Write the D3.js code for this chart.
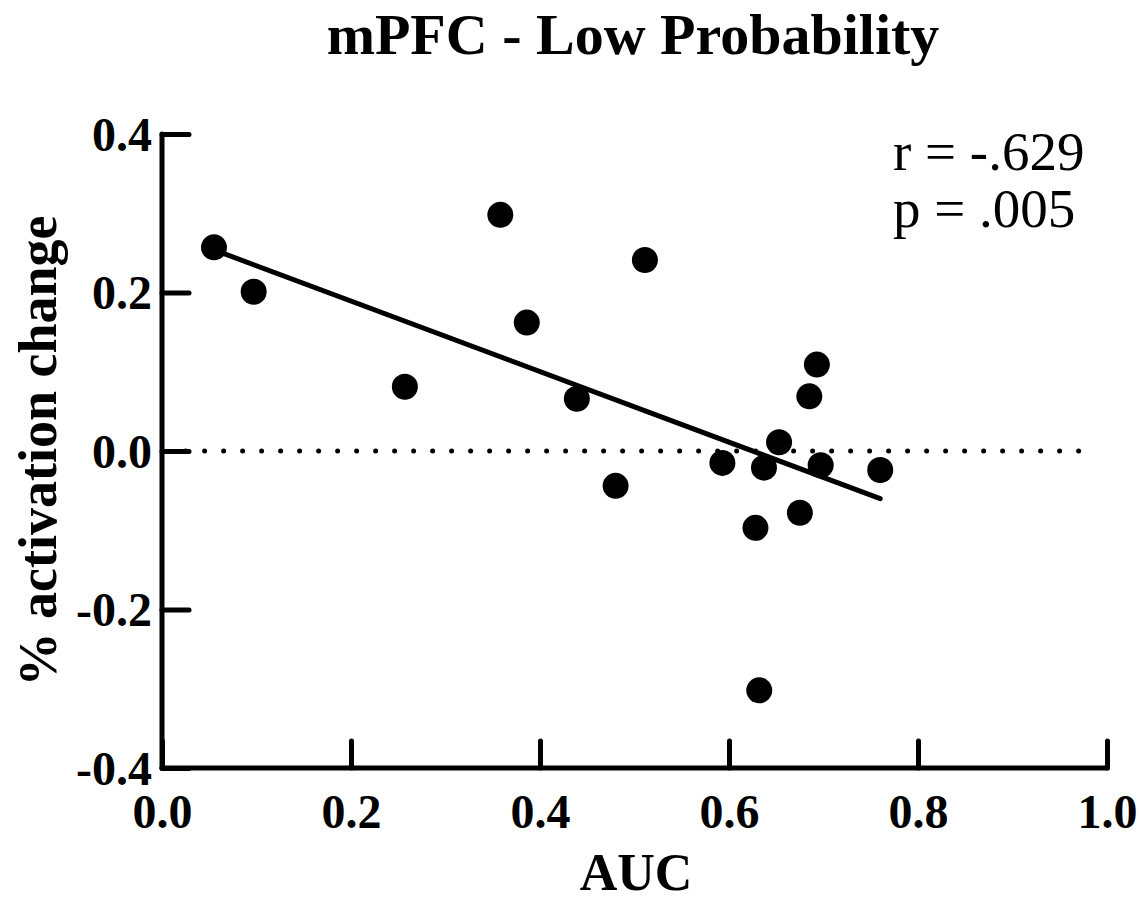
<!DOCTYPE html>
<html lang="en">
<head>
  <meta charset="UTF-8">
  <title>mPFC - Low Probability</title>
  <script src="https://d3js.org/d3.v7.min.js"></script>
  <style>
    body { margin: 0; background: #fff; }
    svg { display: block; }
    text { font-family: "Liberation Serif", "Times New Roman", serif; fill: #000; }
    .bold { font-weight: bold; }
  </style>
</head>
<body>
  <svg width="1140" height="900"></svg>
  <script>
    // AUC values (x) and % activation change (y)
    const auc = [0.055, 0.097, 0.257, 0.358, 0.386, 0.439, 0.480, 0.511, 0.593,
                 0.628, 0.637, 0.632, 0.653, 0.675, 0.685, 0.693, 0.697, 0.760];
    const activation = [0.257, 0.201, 0.081, 0.298, 0.162, 0.066, -0.044, 0.241, -0.015,
                        -0.097, -0.021, -0.302, 0.011, -0.078, 0.069, 0.109, -0.018, -0.024];
    const xTicks = [0.0, 0.2, 0.4, 0.6, 0.8, 1.0];
    const yTicks = [-0.4, -0.2, 0.0, 0.2, 0.4];
    const stats = ["r = -.629", "p = .005"];

    const svg = d3.select("svg");
    const plotL = 162, plotR = 1107, plotT = 134, plotB = 768;

    const x = d3.scaleLinear().domain([0, 1]).range([plotL, plotR]);
    const y = d3.scaleLinear().domain([-0.4, 0.4]).range([plotB, plotT]);
    const fmt = d => d3.format(".1f")(d).replace("\u2212", "-");

    // title
    svg.append("text").attr("class", "bold")
       .attr("x", 633).attr("y", 54)
       .attr("text-anchor", "middle").style("font-size", "58px")
       .text("mPFC - Low Probability");

    // zero reference line (dotted)
    svg.append("line")
       .attr("x1", x(0.025)).attr("x2", x(0.985))
       .attr("y1", y(0)).attr("y2", y(0))
       .attr("stroke", "#000").attr("stroke-width", 5)
       .attr("stroke-linecap", "round")
       .attr("stroke-dasharray", "0 19");

    // axes
    const xAxis = d3.axisBottom(x).tickValues(xTicks).tickSize(-27).tickPadding(26)
                    .tickFormat(fmt);
    const yAxis = d3.axisLeft(y).tickValues(yTicks).tickSize(-27).tickPadding(10)
                    .tickFormat(fmt);

    const gx = svg.append("g").attr("transform", `translate(0,${plotB})`).call(xAxis);
    const gy = svg.append("g").attr("transform", `translate(${plotL},0)`).call(yAxis);

    [gx, gy].forEach(g => {
      g.attr("font-family", null).attr("font-size", null);
      g.select(".domain").attr("stroke", "#000").attr("stroke-width", 5)
       .attr("stroke-linecap", "round");
      g.selectAll(".tick line").attr("stroke", "#000").attr("stroke-width", 5)
       .attr("stroke-linecap", "round");
      g.selectAll(".tick text").attr("class", "bold").style("font-size", "48px");
    });
    // plain axis line (no outer ticks)
    gx.select(".domain").attr("d", `M${plotL},0H${plotR}`);
    gy.select(".domain").attr("d", `M0,${plotB}V${plotT}`);
    gx.selectAll(".tick text").attr("dy", "0.71em");
    gy.selectAll(".tick text").attr("dy", "0.34em");

    // axis titles
    svg.append("text").attr("class", "bold")
       .attr("x", 636).attr("y", 890)
       .attr("text-anchor", "middle").style("font-size", "52px")
       .text("AUC");
    svg.append("text").attr("class", "bold")
       .attr("transform", `translate(56,${y(0)}) rotate(-90)`)
       .attr("text-anchor", "middle").style("font-size", "54px")
       .text("% activation change");

    // regression line (least squares)
    const n = auc.length;
    const mx = d3.mean(auc), my = d3.mean(activation);
    let sxy = 0, sxx = 0;
    for (let i = 0; i < n; i++) {
      sxy += (auc[i] - mx) * (activation[i] - my);
      sxx += (auc[i] - mx) * (auc[i] - mx);
    }
    const slope = sxy / sxx, icpt = my - slope * mx;
    const [x0, x1] = d3.extent(auc);
    svg.append("line")
       .attr("x1", x(x0)).attr("y1", y(icpt + slope * x0))
       .attr("x2", x(x1)).attr("y2", y(icpt + slope * x1))
       .attr("stroke", "#000").attr("stroke-width", 5)
       .attr("stroke-linecap", "round");

    // points
    svg.selectAll("circle.pt")
       .data(auc.map((a, i) => [a, activation[i]]))
       .join("circle")
       .attr("class", "pt")
       .attr("cx", d => x(d[0])).attr("cy", d => y(d[1]))
       .attr("r", 13).attr("fill", "#000");

    // stats
    svg.selectAll("text.stat")
       .data(stats)
       .join("text")
       .attr("class", "stat")
       .attr("x", 893).attr("y", (d, i) => 170 + i * 57)
       .style("font-size", "55px")
       .text(d => d);
  </script>
</body>
</html>
